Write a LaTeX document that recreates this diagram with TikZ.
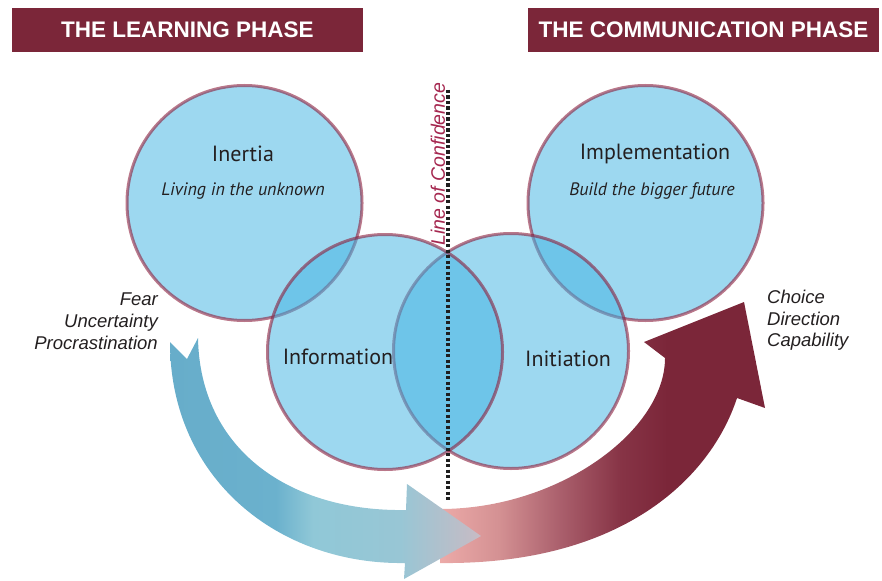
\documentclass[tikz,border=0pt]{standalone}
\usepackage{fontspec}
\setmainfont{Liberation Sans}
\newfontfamily\labelfont{PT Sans}
\definecolor{maroon}{RGB}{123,38,57}
\definecolor{rim}{RGB}{140,30,60}
\definecolor{cblue}{RGB}{67,180,226}
\definecolor{txt}{RGB}{35,31,32}
\definecolor{locred}{RGB}{165,40,80}
\definecolor{bA}{RGB}{103,173,202}
\definecolor{bB}{RGB}{107,177,205}
\definecolor{bC}{RGB}{144,200,215}
\definecolor{bD}{RGB}{152,198,213}
\definecolor{bE}{RGB}{200,187,196}
\definecolor{rA}{RGB}{236,170,168}
\definecolor{rB}{RGB}{212,145,147}
\definecolor{rC}{RGB}{170,95,108}
\definecolor{rD}{RGB}{135,52,70}
\definecolor{rE}{RGB}{123,38,57}
\pgfdeclarehorizontalshading{blueshade}{100bp}{color(0bp)=(bA); color(25bp)=(bA); color(42bp)=(bB); color(48bp)=(bC); color(62bp)=(bD); color(75bp)=(bE); color(100bp)=(bE)}
\pgfdeclarehorizontalshading{redshade}{100bp}{color(0bp)=(rA); color(25bp)=(rA); color(34bp)=(rB); color(43.5bp)=(rC); color(52.7bp)=(rD); color(60bp)=(rE); color(100bp)=(rE)}
\tikzset{
  banner/.style={fill=maroon, text=white, minimum width=351pt, minimum height=44pt, inner sep=0pt, font=\bfseries\fontsize{22.5}{27}\selectfont},
  bubble/.style={circle, minimum size=235pt, inner sep=0pt, fill=cblue, fill opacity=0.52, draw=rim, draw opacity=0.6, line width=3pt},
  title/.style={text=txt, inner sep=0pt, font=\labelfont\fontsize{22}{26}\selectfont},
  subtitle/.style={text=txt, inner sep=0pt, font=\labelfont\itshape\fontsize{18}{22}\selectfont},
  side/.style={text=txt, inner sep=0pt, font=\itshape\fontsize{18.5}{22}\selectfont},
  confline/.style={line width=4pt, dash pattern=on 3.3pt off 2.2pt, draw=black!88},
  loc/.style={rotate=90, text=locred, inner sep=0pt, font=\itshape\fontsize{19.5}{22}\selectfont}
}
\begin{document}
\begin{tikzpicture}[x=1pt,y=-1pt]
\useasboundingbox (0,0) rectangle (882,580);
% banners
\node[banner] (learn) at (187.5,30) {THE LEARNING PHASE};
\node[banner] (comm) at (703.5,30) {THE COMMUNICATION PHASE};
% circles
\node[bubble] (impl) at (645.5,203) {};
\node[bubble] (init) at (511,351) {};
\node[bubble] (inert) at (244.5,203) {};
\node[bubble] (info) at (385,352) {};
% labels
\node[title] (tinert) at (243,154) {Inertia};
\node[subtitle] (sinert) at (243,191) {Living in the unknown};
\node[title] (timpl) at (655,154) {Implementation};
\node[subtitle] (simpl) at (652,191) {Build the bigger future};
\node[title] (tinfo) at (338,357) {Information};
\node[title] (tinit) at (568,359) {Initiation};
% line of confidence
\coordinate (ltop) at (448,90);
\coordinate (lbot) at (448,500);
\draw[confline] (ltop) -- (lbot);
\node[loc] (lconf) at (438,164) {Line of Confidence};
% side texts
\node[side, anchor=base east] (fear) at (158,305) {Fear};
\node[side, anchor=base east] (unc) at (158,327) {Uncertainty};
\node[side, anchor=base east] (proc) at (158,349) {Procrastination};
\node[side, anchor=base west] (choice) at (767,303) {Choice};
\node[side, anchor=base west] (dir) at (767,325) {Direction};
\node[side, anchor=base west] (cap) at (767,346) {Capability};
% red arrow
\shade[shading=redshade] (440,509) .. controls (560,509) and (665,430) .. (665,358) -- (644,342) -- (744,302) -- (765,408) -- (737,398) .. controls (710,480) and (620,565) .. (440,563) -- cycle;
% blue arrow
\shade[shading=blueshade] (170,342) -- (187,359) -- (198,338) .. controls (200,450) and (290,512) .. (406,510) -- (407,484) -- (481,536) -- (404,579) -- (405,563) .. controls (280,565) and (170,480) .. (170,342) -- cycle;
\end{tikzpicture}
\end{document}
